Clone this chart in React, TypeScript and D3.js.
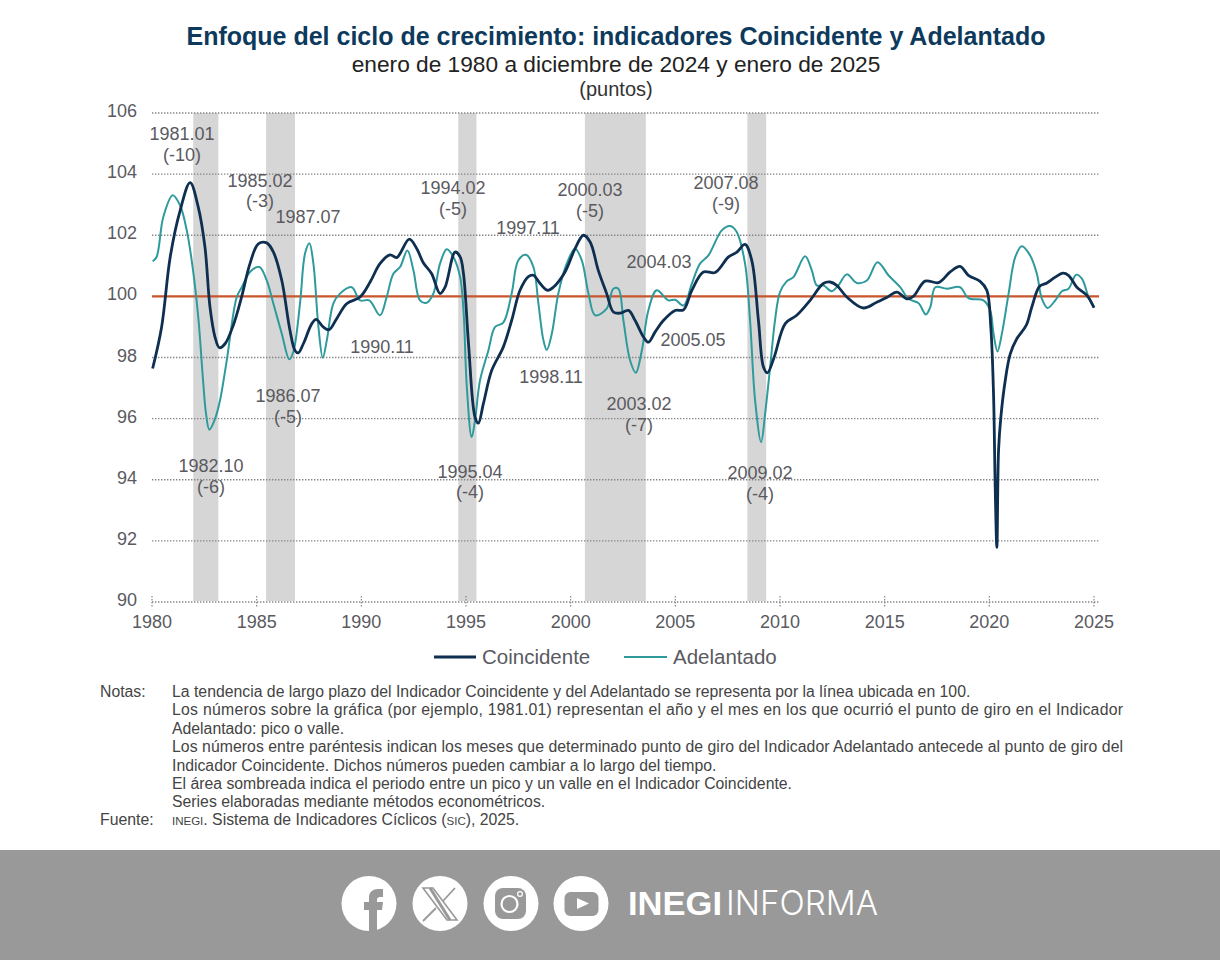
import React from "react";
import * as d3 from "d3";

const coincidente: [number, number][] = [[1980.03,97.64],[1980.46,99.0],[1980.87,101.29],[1981.34,102.8],[1981.82,103.72],[1982.21,102.92],[1982.53,101.61],[1982.77,99.65],[1983.01,98.67],[1983.22,98.32],[1983.49,98.45],[1983.88,99.05],[1984.28,99.98],[1984.68,101.07],[1985.08,101.72],[1985.48,101.75],[1985.8,101.45],[1986.2,100.52],[1986.59,98.89],[1986.83,98.23],[1986.99,98.15],[1987.23,98.45],[1987.63,99.1],[1987.84,99.25],[1988.18,99.0],[1988.46,98.91],[1988.82,99.27],[1989.3,99.76],[1989.94,99.98],[1990.42,100.47],[1990.89,101.07],[1991.37,101.36],[1991.69,101.27],[1992.29,101.87],[1992.65,101.56],[1992.96,101.1],[1993.36,100.74],[1993.76,100.09],[1994.0,100.3],[1994.48,101.45],[1994.72,101.29],[1994.88,100.74],[1995.12,98.45],[1995.43,96.05],[1995.59,95.85],[1995.83,96.49],[1996.23,97.58],[1996.78,98.34],[1997.18,99.21],[1997.58,100.2],[1997.98,100.65],[1998.22,100.69],[1998.54,100.42],[1998.89,100.2],[1999.17,100.3],[1999.73,100.8],[2000.21,101.56],[2000.61,102.0],[2000.93,101.78],[2001.32,100.85],[2001.72,100.09],[2002.04,99.49],[2002.36,99.45],[2002.76,99.54],[2003.08,99.21],[2003.48,98.67],[2003.71,98.5],[2004.03,98.83],[2004.43,99.21],[2004.99,99.54],[2005.39,99.56],[2005.79,100.2],[2006.34,100.8],[2006.9,100.78],[2007.54,101.29],[2007.94,101.45],[2008.33,101.7],[2008.65,101.18],[2008.97,99.21],[2009.21,97.69],[2009.4,97.5],[2009.72,98.01],[2010.25,99.11],[2010.8,99.38],[2011.44,99.87],[2012.07,100.42],[2012.39,100.47],[2012.71,100.36],[2013.19,99.98],[2013.98,99.62],[2014.62,99.81],[2015.1,99.96],[2015.58,100.14],[2016.05,99.92],[2016.37,100.0],[2016.93,100.5],[2017.57,100.45],[2018.13,100.8],[2018.6,100.98],[2019.0,100.69],[2019.56,100.49],[2019.88,100.2],[2020.07,99.0],[2020.2,96.82],[2020.28,93.76],[2020.36,91.79],[2020.44,94.96],[2020.55,96.05],[2020.76,97.25],[2021.0,98.12],[2021.32,98.62],[2021.76,99.05],[2022.03,99.65],[2022.4,100.33],[2022.75,100.44],[2023.15,100.63],[2023.51,100.76],[2023.78,100.69],[2024.18,100.3],[2024.66,100.03],[2025.0,99.63]];

const adelantado: [number, number][] = [[1980.03,101.15],[1980.22,101.29],[1980.54,102.6],[1980.99,103.31],[1981.34,102.98],[1981.66,102.16],[1981.94,100.96],[1982.21,99.32],[1982.45,97.15],[1982.58,96.17],[1982.74,95.64],[1983.01,95.99],[1983.25,96.6],[1983.57,97.9],[1984.05,99.98],[1984.29,100.3],[1984.68,100.8],[1985.13,100.96],[1985.48,100.52],[1985.8,99.76],[1986.2,98.78],[1986.56,97.94],[1986.75,98.18],[1987.07,99.76],[1987.31,101.4],[1987.52,101.74],[1987.71,101.07],[1987.95,99.0],[1988.16,97.99],[1988.35,98.56],[1988.66,99.76],[1988.98,100.09],[1989.54,100.3],[1989.94,99.87],[1990.38,99.87],[1990.89,99.38],[1991.21,99.98],[1991.53,100.74],[1991.85,100.96],[1992.2,101.5],[1992.49,100.85],[1992.8,99.87],[1993.12,99.79],[1993.44,100.09],[1993.76,101.07],[1994.08,101.54],[1994.4,101.29],[1994.72,100.63],[1994.88,99.54],[1995.04,97.03],[1995.27,95.39],[1995.43,95.94],[1995.67,97.25],[1996.07,98.23],[1996.39,99.0],[1996.78,99.14],[1997.18,100.09],[1997.5,101.18],[1997.87,101.36],[1998.22,100.96],[1998.46,99.76],[1998.7,98.56],[1998.86,98.25],[1999.1,98.78],[1999.41,100.09],[1999.81,101.07],[2000.21,101.56],[2000.53,101.18],[2000.85,100.09],[2001.17,99.38],[2001.72,99.6],[2002.04,100.25],[2002.28,100.25],[2002.52,99.21],[2002.84,97.9],[2003.11,97.5],[2003.4,98.23],[2003.71,99.54],[2004.11,100.2],[2004.67,99.87],[2004.99,99.89],[2005.39,99.7],[2005.79,100.42],[2006.18,101.07],[2006.58,101.34],[2007.22,102.16],[2007.62,102.3],[2007.94,102.1],[2008.33,101.07],[2008.57,99.21],[2008.81,96.6],[2009.1,95.23],[2009.29,96.17],[2009.53,97.69],[2009.76,99.21],[2010.0,100.14],[2010.32,100.49],[2010.64,100.63],[2011.2,101.31],[2011.52,100.85],[2011.76,100.36],[2012.07,100.36],[2012.47,100.17],[2012.79,100.36],[2013.19,100.72],[2013.67,100.44],[2014.15,100.52],[2014.66,101.12],[2015.18,100.69],[2015.74,100.3],[2016.14,99.92],[2016.61,99.78],[2016.97,99.41],[2017.18,99.65],[2017.42,100.3],[2017.97,100.25],[2018.6,100.3],[2019.0,99.94],[2019.72,99.87],[2020.04,99.54],[2020.2,98.78],[2020.39,98.2],[2020.6,98.78],[2020.92,100.09],[2021.24,101.29],[2021.55,101.64],[2021.95,101.34],[2022.27,100.74],[2022.51,99.92],[2022.78,99.62],[2023.15,99.87],[2023.47,100.17],[2023.78,100.25],[2024.15,100.71],[2024.42,100.58],[2024.74,99.98],[2025.0,99.63]];

const recesiones: [number, number][] = [[1981.97,1983.17],[1985.45,1986.83],[1994.63,1995.5],[2000.68,2003.59],[2008.44,2009.34]];
const yTicks = [90,92,94,96,98,100,102,104,106];
const xTicks = [1980,1985,1990,1995,2000,2005,2010,2015,2020,2025];

const etiquetas: [string, number, number][] = [
  ["1981.01",182,134],["(-10)",182,155],["1985.02",260,181],["(-3)",260,201],["1987.07",308,217],
  ["1994.02",453,188],["(-5)",453,209],["1997.11",528,228],["2000.03",590,190],["(-5)",590,211],
  ["2004.03",659,262],["2007.08",726,183],["(-9)",726,204],["1990.11",382,347],["1998.11",551,377],
  ["2005.05",693,340],["2003.02",639,404],["(-7)",639,425],["1986.07",288,396],["(-5)",288,417],
  ["1982.10",211,466],["(-6)",211,487],["1995.04",470,472],["(-4)",470,492],["2009.02",760,473],["(-4)",760,494],
];

const notas: [string, number, boolean][] = [
  ["La tendencia de largo plazo del Indicador Coincidente y del Adelantado se representa por la línea ubicada en 100.",692,false],
  ["Los números sobre la gráfica (por ejemplo, 1981.01) representan el año y el mes en los que ocurrió el punto de giro en el Indicador",710,true],
  ["Adelantado: pico o valle.",729,false],
  ["Los números entre paréntesis indican los meses que determinado punto de giro del Indicador Adelantado antecede al punto de giro del",747,true],
  ["Indicador Coincidente. Dichos números pueden cambiar a lo largo del tiempo.",766,false],
  ["El área sombreada indica el periodo entre un pico y un valle en el Indicador Coincidente.",784,false],
  ["Series elaboradas mediante métodos econométricos.",802,false],
];

const x = d3.scaleLinear().domain([1980, 2025]).range([152, 1094]);
const y = d3.scaleLinear().domain([90, 106]).range([602, 113]);
const linea = d3.line<[number, number]>().x(d => x(d[0])).y(d => y(d[1])).curve(d3.curveCatmullRom.alpha(0.5));

const FONT = "'Liberation Sans', Arial, sans-serif";
const GRIS = "#5a5a5f";
const NAVY = "#0e2f50";
const TEAL = "#2f9a9c";
const FOOT = "#999999";

export default function App() {
  return (
    <svg width={1220} height={960} style={{ position: "absolute", left: 0, top: 0, background: "#fff" }} fontFamily={FONT}>
      <text x={616} y={45} textAnchor="middle" fontSize={25} fontWeight={700} fill="#0d3a5c">Enfoque del ciclo de crecimiento: indicadores Coincidente y Adelantado</text>
      <text x={616} y={72} textAnchor="middle" fontSize={22.7} fill="#222">enero de 1980 a diciembre de 2024 y enero de 2025</text>
      <text x={616} y={96} textAnchor="middle" fontSize={20} fill="#333">(puntos)</text>

      {recesiones.map(([a, b], i) => (
        <rect key={i} x={x(a)} width={x(b) - x(a)} y={y(106)} height={y(90) - y(106) - 1} fill="#d6d6d6" />
      ))}
      {yTicks.filter(t => t !== 100).map(t => (
        <line key={t} x1={152} x2={1099} y1={y(t)} y2={y(t)} stroke="#858585" strokeWidth={1.3} strokeDasharray="1.4 1.6" />
      ))}
      {xTicks.map(t => (
        <line key={t} x1={x(t)} x2={x(t)} y1={596} y2={607} stroke="#888" strokeWidth={1.2} strokeDasharray="1.4 1.6" />
      ))}
      {yTicks.map(t => (
        <text key={t} x={137} y={y(t) - 2} textAnchor="end" dominantBaseline="central" fontSize={18} fill={GRIS}>{t}</text>
      ))}
      {xTicks.map(t => (
        <text key={t} x={x(t)} y={628} textAnchor="middle" fontSize={18} fill={GRIS}>{t}</text>
      ))}

      <line x1={152} x2={1099} y1={y(100)} y2={y(100)} stroke="#c8552b" strokeWidth={2.4} />
      <path d={linea(adelantado) || ""} fill="none" stroke={TEAL} strokeWidth={2} strokeLinejoin="round" />
      <path d={linea(coincidente) || ""} fill="none" stroke={NAVY} strokeWidth={2.8} strokeLinejoin="round" />

      {etiquetas.map(([t, px, py], i) => (
        <text key={i} x={px} y={py} textAnchor="middle" dominantBaseline="central" fontSize={18} fill={GRIS}>{t}</text>
      ))}

      <line x1={434} x2={476} y1={657} y2={657} stroke={NAVY} strokeWidth={2.8} />
      <text x={482} y={664} fontSize={20.5} fill={GRIS}>Coincidente</text>
      <line x1={624} x2={667} y1={657} y2={657} stroke={TEAL} strokeWidth={2} />
      <text x={673} y={664} fontSize={20.5} fill={GRIS}>Adelantado</text>

      <text x={100} y={697} fontSize={15.8} fill="#444">Notas:</text>
      {notas.map(([t, py, just], i) => (
        <text key={i} x={172} y={py + 5} fontSize={15.8} fill="#444" {...(just ? { textLength: 951, lengthAdjust: "spacing" } : {})}>{t}</text>
      ))}
      <text x={100} y={825} fontSize={15.8} fill="#444">Fuente:</text>
      <text x={172} y={825} fontSize={15.8} fill="#444"><tspan fontSize={11.5}>INEGI</tspan>. Sistema de Indicadores Cíclicos (<tspan fontSize={11.5}>SIC</tspan>), 2025.</text>

      <rect x={0} y={850} width={1220} height={110} fill={FOOT} />
      <circle cx={369} cy={903.5} r={27.5} fill="#fff" />
      <path d="M369 931 V910 H364 V902 H369 V897 C369 892 373 889 378 889 H383 V897 H380 C378 897 377 898 377 900 V902 H383 L382 910 H377 V931 Z" fill={FOOT} />
      <circle cx={440} cy={903.5} r={27.5} fill="#fff" />
      <path d="M423 888 H433 L457 920 H447 Z" fill="none" stroke={FOOT} strokeWidth={1.6} />
      <path d="M455 888 L443 901 M436 908 L423 921" fill="none" stroke={FOOT} strokeWidth={1.8} />
      <path d="M430 888 L450 920" fill="none" stroke={FOOT} strokeWidth={3} />
      <circle cx={511} cy={903.5} r={27.5} fill="#fff" />
      <rect x={495} y={888} width={31} height={31} rx={8} fill={FOOT} />
      <circle cx={509.5} cy={904} r={8} fill="none" stroke="#fff" strokeWidth={2.2} />
      <circle cx={520} cy={894} r={2.4} fill="none" stroke="#fff" strokeWidth={1.2} />
      <circle cx={581} cy={903.5} r={27.5} fill="#fff" />
      <rect x={564.5} y={892} width={34} height={24} rx={6} fill={FOOT} />
      <path d="M577 898 L589 903.5 L577 909 Z" fill="#fff" />

      <text x={628} y={915} fontSize={34} fontWeight={700} fill="#fff" textLength={94} lengthAdjust="spacingAndGlyphs">INEGI</text>
      <text x={726} y={915} fontSize={34} fontFamily="Inter, 'Liberation Sans', sans-serif" fontWeight={300} fill="#fff" textLength={152} lengthAdjust="spacingAndGlyphs">INFORMA</text>
    </svg>
  );
}
